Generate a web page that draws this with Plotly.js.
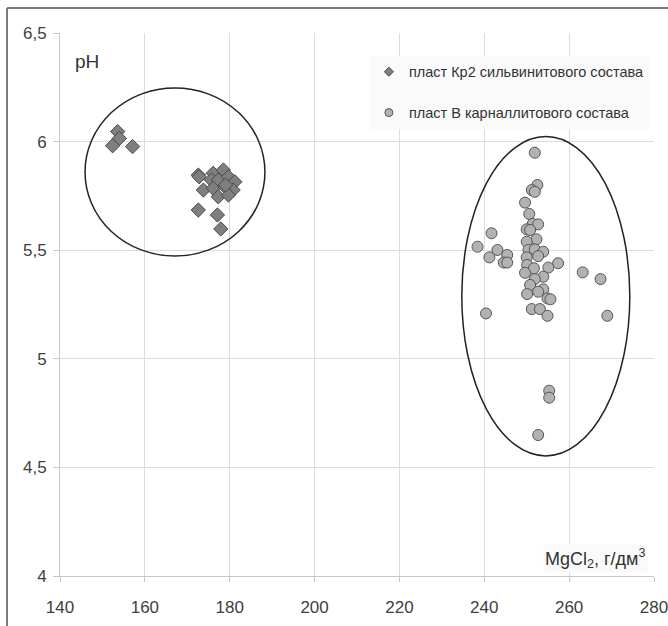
<!DOCTYPE html>
<html>
<head>
<meta charset="utf-8">
<script src="https://cdn.plot.ly/plotly-3.0.1.min.js"></script>
<style>html,body{margin:0;padding:0;background:#fff;}#chart{width:668px;height:626px;}</style>
</head>
<body>
<div id="chart"></div>
<script>
// Series 1: пласт Кр2 сильвинитового состава (diamonds)
const kr2X = [153.6, 154.0, 152.4, 157.1, 172.6, 172.8, 176.1, 178.5, 175.7, 177.3, 179.7, 181.2, 173.8, 176.1, 178.9, 180.8, 177.3, 179.7, 172.6, 177.1, 177.9, 179.0];
const kr2Y = [6.046, 6.015, 5.981, 5.977, 5.846, 5.838, 5.854, 5.869, 5.823, 5.823, 5.838, 5.815, 5.777, 5.785, 5.792, 5.777, 5.746, 5.754, 5.685, 5.662, 5.598, 5.800];

// Series 2: пласт В карналлитового состава (circles)
const bX = [251.9, 252.5, 251.2, 251.9, 249.6, 250.6, 251.4, 252.7, 250.0, 250.8, 241.7, 252.3, 250.0, 238.4, 243.1, 245.4, 250.4, 251.9, 253.9, 241.2, 252.7, 250.0, 244.6, 245.4, 257.4, 250.1, 255.1, 251.7, 263.2, 249.6, 253.9, 267.4, 251.9, 250.8, 253.9, 252.7, 250.1, 254.9, 255.6, 251.2, 253.1, 240.4, 254.9, 269.0, 255.3, 255.3, 252.7];
const bY = [5.949, 5.800, 5.777, 5.769, 5.719, 5.667, 5.621, 5.619, 5.596, 5.593, 5.578, 5.550, 5.539, 5.516, 5.501, 5.478, 5.501, 5.504, 5.493, 5.467, 5.473, 5.467, 5.443, 5.443, 5.440, 5.432, 5.420, 5.417, 5.398, 5.396, 5.378, 5.367, 5.367, 5.340, 5.320, 5.309, 5.298, 5.278, 5.274, 5.229, 5.229, 5.209, 5.198, 5.198, 4.853, 4.821, 4.649];

const seriesNames = ['пласт Кр2 сильвинитового состава', 'пласт В карналлитового состава'];
const xTicks = [140, 160, 180, 200, 220, 240, 260, 280];
const yTicks = [4, 4.5, 5, 5.5, 6, 6.5];

// Outline ellipses (data units)
const ellipse1 = {x0: 145.9, x1: 188.3, y0: 5.473, y1: 6.247};
const ellipse2 = {x0: 234.7, x1: 274.3, y0: 4.553, y1: 6.023};

const traces = [
  {x: kr2X, y: kr2Y, type: 'scatter', mode: 'markers', showlegend: false,
   marker: {symbol: 'diamond', size: 11, color: '#7f7f7f', line: {color: '#4a4a4a', width: 1}}},
  {x: bX, y: bY, type: 'scatter', mode: 'markers', showlegend: false,
   marker: {symbol: 'circle', size: 11, color: '#b2b2b2', line: {color: '#555555', width: 1}}},
  {x: [null], y: [null], type: 'scatter', mode: 'markers', name: seriesNames[0], legendgroup: 'a',
   marker: {symbol: 'diamond', size: 7, color: '#7f7f7f', line: {color: '#4a4a4a', width: 1}}},
  {x: [null], y: [null], type: 'scatter', mode: 'markers', name: seriesNames[1], legendgroup: 'b',
   marker: {symbol: 'circle', size: 8, color: '#b2b2b2', line: {color: '#555555', width: 1}}}
];

const fontFam = 'Liberation Sans, Arial, sans-serif';

const layout = {
  width: 668, height: 626,
  margin: {l: 60, r: 14, t: 33, b: 50},
  paper_bgcolor: '#ffffff', plot_bgcolor: '#ffffff',
  separators: ', ',
  font: {family: fontFam, color: '#404040'},
  xaxis: {range: [140, 280], tickvals: xTicks, showgrid: true, gridcolor: '#dcdcdc', gridwidth: 1,
    zeroline: false, showline: true, linecolor: '#c8c8c8', linewidth: 1,
    ticks: 'outside', ticklen: 5, tickcolor: '#c8c8c8', ticklabelstandoff: 11,
    ticklabeloverflow: 'allow',
    tickfont: {size: 17, color: '#404040', family: fontFam}, fixedrange: true},
  yaxis: {range: [4, 6.5], tickvals: yTicks, showgrid: true, gridcolor: '#dcdcdc', gridwidth: 1,
    zeroline: false, showline: true, linecolor: '#c8c8c8', linewidth: 1,
    ticks: 'outside', ticklen: 6, tickcolor: '#c8c8c8', ticklabelstandoff: 3,
    ticklabeloverflow: 'allow',
    tickfont: {size: 17, color: '#404040', family: fontFam}, fixedrange: true},
  showlegend: true,
  legend: {x: 0.52, y: 0.958, xanchor: 'left', yanchor: 'top', bgcolor: '#fafafa', borderwidth: 0,
    font: {size: 14.5, color: '#333333', family: fontFam}, traceorder: 'grouped', tracegroupgap: 19},
  shapes: [
    {type: 'circle', xref: 'x', yref: 'y', x0: ellipse1.x0, x1: ellipse1.x1, y0: ellipse1.y0, y1: ellipse1.y1,
     line: {color: '#222222', width: 1.5}},
    {type: 'circle', xref: 'x', yref: 'y', x0: ellipse2.x0, x1: ellipse2.x1, y0: ellipse2.y0, y1: ellipse2.y1,
     line: {color: '#222222', width: 1.5}},
    {type: 'line', xref: 'paper', yref: 'paper', x0: -0.0892, x1: 1.2, y0: 1.046, y1: 1.046,
     line: {color: '#7a7a7a', width: 2}},
    {type: 'line', xref: 'paper', yref: 'paper', x0: -0.0892, x1: -0.0892, y0: 1.046, y1: -0.2,
     line: {color: '#7a7a7a', width: 2}}
  ],
  annotations: [
    {text: 'pH', xref: 'paper', yref: 'paper', x: 0.022, y: 0.97, xanchor: 'left', yanchor: 'top',
     showarrow: false, font: {size: 19, color: '#333333', family: fontFam}},
    {text: 'MgCl<sub>2</sub>, г/дм<sup>3</sup>', xref: 'paper', yref: 'paper', x: 0.99, y: 0.005,
     xanchor: 'right', yanchor: 'bottom', showarrow: false, bgcolor: '#fafafa',
     font: {size: 18, color: '#333333', family: fontFam}}
  ]
};

Plotly.newPlot('chart', traces, layout, {displayModeBar: false, staticPlot: true});
</script>
</body>
</html>
